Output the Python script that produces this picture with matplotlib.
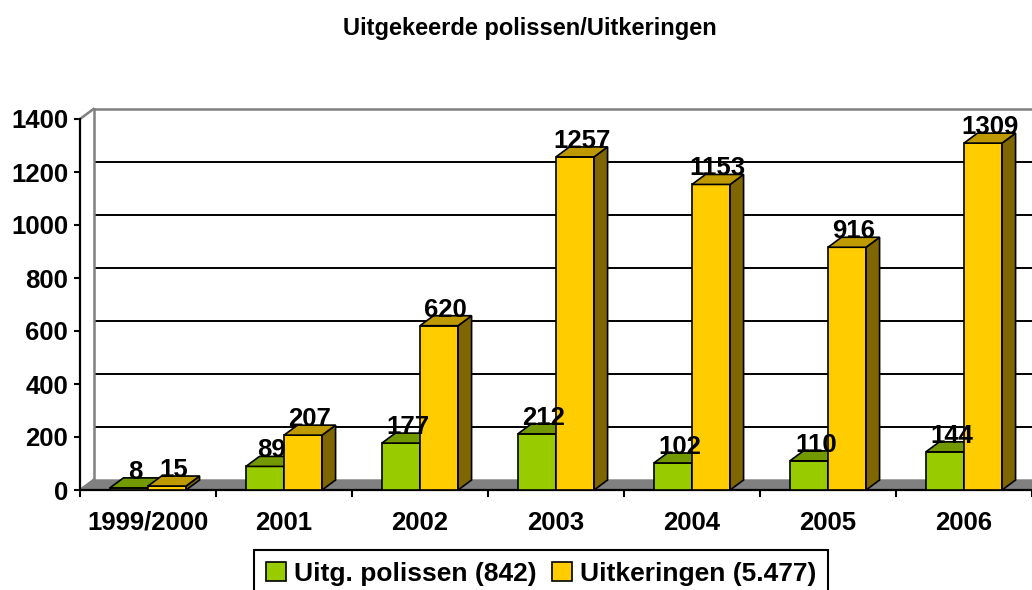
import matplotlib
matplotlib.use('Agg')
import matplotlib.pyplot as plt
from matplotlib.patches import Polygon, Patch
import numpy as np

# ---------------- data ----------------
categories = ['1999/2000', '2001', '2002', '2003', '2004', '2005', '2006']
polissen = [8, 89, 177, 212, 102, 110, 144]
uitkeringen = [15, 207, 620, 1257, 1153, 916, 1309]
series_names = ['Uitg. polissen (842)', 'Uitkeringen (5.477)']
yticks = [0, 200, 400, 600, 800, 1000, 1200, 1400]
title = 'Uitgekeerde polissen/Uitkeringen'

# ---------------- style ----------------
plt.rcParams['font.family'] = ['Liberation Sans', 'DejaVu Sans']
plt.rcParams['font.weight'] = 'bold'

GREEN = ('#99CC00', '#739900', '#4D6600')   # front, top, side
YELLOW = ('#FFCC00', '#BF9900', '#806600')

W, H = 1032, 590
fig = plt.figure(figsize=(W / 100, H / 100), dpi=100)
L, R, B, T = 80, 1032, 490, 119
ax = fig.add_axes([L / W, (H - B) / H, (R - L) / W, (B - T) / H])
n = len(categories)
ax.set_xlim(-0.5, n - 0.5)
ax.set_ylim(yticks[0], yticks[-1])

# depth offset (3D look) in data units
DX = 13.5 / ((R - L) / n)
DY = 10 / ((B - T) / (yticks[-1] - yticks[0]))

x0, x1 = -0.5, n - 0.5
ymax = yticks[-1]
# floor
ax.add_patch(Polygon([(x0, 0), (x1 + 1, 0), (x1 + 1 + DX, DY), (x0 + DX, DY)],
                     closed=True, fc='#808080', ec='#808080', lw=1, clip_on=False, zorder=1))
# back wall grid lines
for v in yticks[1:-1]:
    ax.plot([x0 + DX, x1 + 1], [v + DY, v + DY], color='black', lw=1.4,
            clip_on=False, zorder=1.5, solid_capstyle='butt')
wall = dict(color='#808080', lw=1.8, clip_on=False, zorder=1.6)
ax.plot([x0 + DX, x1 + 1], [ymax + DY, ymax + DY], **wall)
ax.plot([x0 + DX, x0 + DX], [DY, ymax + DY], **wall)
ax.plot([x0, x0 + DX], [ymax, ymax + DY], **wall)
ax.plot([x0, x0 + DX], [0, DY], **wall)

# bars
xs = np.arange(n)
w = 0.28
def draw_series(vals, offset, cols, z):
    bars = ax.bar(xs + offset, vals, w, color=cols[0], edgecolor='black',
                  linewidth=1.2, zorder=z, align='edge')
    for rect, v in zip(bars, vals):
        bx0 = rect.get_x()
        bx1 = bx0 + rect.get_width()
        h = rect.get_height()
        top = Polygon([(bx0, h), (bx1, h), (bx1 + DX, h + DY), (bx0 + DX, h + DY)],
                      closed=True, fc=cols[1], ec='black', lw=1.2, zorder=z, clip_on=False)
        side = Polygon([(bx1, 0), (bx1 + DX, DY), (bx1 + DX, h + DY), (bx1, h)],
                       closed=True, fc=cols[2], ec='black', lw=1.2, zorder=z, clip_on=False)
        ax.add_patch(side)
        ax.add_patch(top)
        ax.text((bx0 + bx1) / 2 + DX / 2, h + DY * 0.9, str(v), ha='center',
                va='baseline', fontsize=18.5, fontweight='bold', zorder=10)
    return bars

draw_series(polissen, -w, GREEN, 3)
draw_series(uitkeringen, 0, YELLOW, 4)

# axes styling
for s in ['top', 'right']:
    ax.spines[s].set_visible(False)
for s in ['left', 'bottom']:
    ax.spines[s].set_color('black')
    ax.spines[s].set_linewidth(1.6)
    ax.spines[s].set_zorder(2)
ax.set_yticks(yticks)
ax.set_yticklabels([str(t) for t in yticks])
ax.tick_params(axis='y', length=4.5, width=1.5, pad=4, labelsize=18.5, direction='out')
ax.set_xticks(xs)
ax.set_xticklabels(categories)
ax.set_xticks(np.arange(-0.5, n, 1), minor=True)
ax.tick_params(axis='x', which='major', length=0, pad=15, labelsize=18.5)
ax.tick_params(axis='x', which='minor', length=5, width=1.5, direction='out')
for lab in ax.get_xticklabels() + ax.get_yticklabels():
    lab.set_fontweight('bold')
ax.patch.set_alpha(0)

fig.text(530 / W, 1 - 28 / H, title, ha='center', va='center', fontsize=17, fontweight='bold')

handles = [Patch(facecolor=GREEN[0], edgecolor='black', linewidth=1.2),
           Patch(facecolor=YELLOW[0], edgecolor='black', linewidth=1.2)]
leg = fig.legend(handles, series_names, loc='upper left', bbox_to_anchor=(254 / W, 1 - 550 / H),
                 ncol=2, frameon=True, fancybox=False, edgecolor='black', framealpha=1,
                 prop={'size': 19, 'weight': 'bold'}, handlelength=0.75, handleheight=0.75,
                 handletextpad=0.3, columnspacing=0.6, borderpad=0.45, borderaxespad=0)
leg.get_frame().set_linewidth(1.5)

fig.savefig('out.png', dpi=100)
